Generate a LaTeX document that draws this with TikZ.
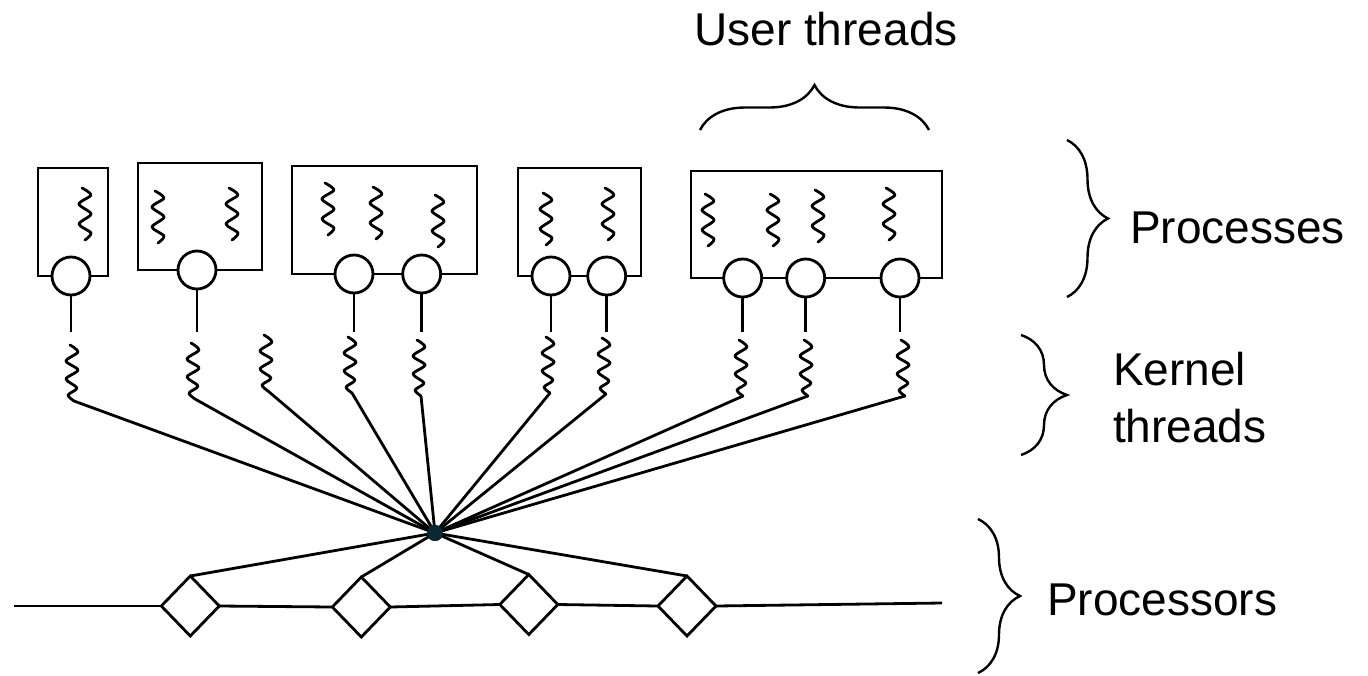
\documentclass[tikz,border=0pt]{standalone}
\usepackage{fontspec}
\setmainfont{Liberation Sans}
\usetikzlibrary{shapes.geometric,decorations.pathreplacing}
\definecolor{dotc}{RGB}{8,40,50}
\begin{document}
\begin{tikzpicture}[x=1pt,y=-1pt,
  line width=2.8pt,
  every node/.style={inner sep=0pt,outer sep=0pt},
  proc/.style={draw,rectangle},
  kthr/.style={draw,circle,fill=white,minimum size=38pt},
  cpu/.style={draw,diamond,fill=white,minimum width=58pt,minimum height=60pt},
  hub/.style={circle,fill=dotc,minimum size=16pt},
  lbl/.style={font=\fontsize{46}{54}\selectfont},
  brc/.style={decorate,decoration={brace,amplitude=#1},line width=2.4pt},
  wire/.style={line width=2.8pt},
  squig/.pic={\draw[line width=2.8pt,line join=round,line cap=round] plot[smooth,tension=0.5] coordinates {(-3,0) (6,7) (-6,16) (6,26) (-6,36) (6,45) (0,52)};},
  ksquig/.pic={\draw[line width=2.8pt,line join=round,line cap=round] plot[smooth,tension=0.5] coordinates {(-2,0) (6,7) (-6,16) (6,25) (-6,34) (5,43) (-4,50) (2,56)}; \coordinate (-end) at (2,56);}
]
\useasboundingbox (0,0) rectangle (1368,675);

% process boxes
\node[proc,minimum width=70pt,minimum height=108pt] (p1) at (73,222) {};
\node[proc,minimum width=124pt,minimum height=107pt] (p2) at (200,216.5) {};
\node[proc,minimum width=185pt,minimum height=108pt] (p3) at (384.5,220) {};
\node[proc,minimum width=123pt,minimum height=108pt] (p4) at (579.5,222) {};
\node[proc,minimum width=251pt,minimum height=107pt] (p5) at (816.5,224.5) {};

% user threads
\pic at (85,188) {squig};
\pic at (158,191) {squig};
\pic at (232,188) {squig};
\pic at (328,183) {squig};
\pic at (376,187) {squig};
\pic at (438,195) {squig};
\pic at (546,193) {squig};
\pic at (608,188) {squig};
\pic at (708,194) {squig};
\pic at (773,194) {squig};
\pic at (818,190) {squig};
\pic at (889,188) {squig};

% kernel thread attachment circles
\node[kthr] (c1) at (71,276) {};
\node[kthr] (c2) at (197,270) {};
\node[kthr] (c4) at (354,274) {};
\node[kthr] (c5) at (421.7,274) {};
\node[kthr] (c6) at (551,276) {};
\node[kthr] (c7) at (606.7,276) {};
\node[kthr] (c8) at (742.7,278) {};
\node[kthr] (c9) at (805.7,278) {};
\node[kthr] (c10) at (900,278) {};

\coordinate (s1) at (71,332);
\coordinate (s2) at (197,332);
\coordinate (s4) at (354,332);
\coordinate (s5) at (421.7,332);
\coordinate (s6) at (551,332);
\coordinate (s7) at (606.7,332);
\coordinate (s8) at (742.7,332);
\coordinate (s9) at (805.7,332);
\coordinate (s10) at (900,332);
\foreach \i in {1,2,4,5,6,7,8,9,10} {\draw[wire] (c\i.south) -- (s\i);}

% kernel threads
\pic (k1) at (72,345) {ksquig};
\pic (k2) at (193,343) {ksquig};
\pic (k3) at (266,335) {ksquig};
\pic (k4) at (350,337) {ksquig};
\pic (k5) at (419,340) {ksquig};
\pic (k6) at (548,337) {ksquig};
\pic (k7) at (604,338) {ksquig};
\pic (k8) at (741,340) {ksquig};
\pic (k9) at (806,340) {ksquig};
\pic (k10) at (903,340) {ksquig};

% hub
\node[hub] (hub) at (435,533) {};
\foreach \i in {1,...,10} {\draw[wire] (k\i-end) -- (hub.center);}

% processors
\coordinate (bl) at (14,606);
\coordinate (br) at (942,603);
\node[cpu] (d1) at (190.3,606) {};
\node[cpu] (d2) at (361.3,607) {};
\node[cpu] (d3) at (528.8,604.5) {};
\node[cpu] (d4) at (687,606) {};
\draw[wire] (bl) -- (d1.west);
\draw[wire] (d1.east) -- (d2.west);
\draw[wire] (d2.east) -- (d3.west);
\draw[wire] (d3.east) -- (d4.west);
\draw[wire] (d4.east) -- (br);
\foreach \i in {1,...,4} {\draw[wire] (hub.center) -- (d\i.north);}
\node[hub] at (hub) {};

% braces and labels
\draw[brc=45] (700,130) -- (929,130);
\node[lbl,anchor=base] (ut) at (826,45) {User threads};
\draw[brc=41] (1067,140) -- (1067,297);
\node[lbl,anchor=base west] (lp) at (1130,243) {Processes};
\draw[brc=46] (1021,335) -- (1021,455);
\node[lbl,anchor=base west] (lk1) at (1113,385) {Kernel};
\node[lbl,anchor=base west] (lk2) at (1113,442) {threads};
\draw[brc=42] (978,519) -- (978,673);
\node[lbl,anchor=base west] (lc) at (1047,615) {Processors};
\end{tikzpicture}
\end{document}
